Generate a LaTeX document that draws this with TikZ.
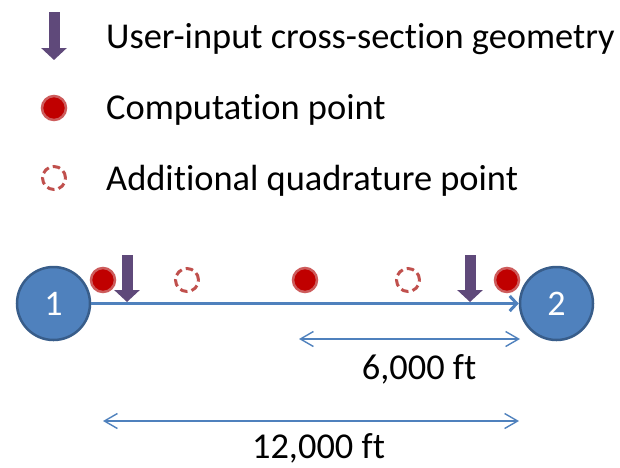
\documentclass[tikz,border=0pt]{standalone}
\usepackage{fontspec}
\setmainfont[RawFeature={-liga;-dlig;-clig;-calt}]{Carlito}
\usetikzlibrary{arrows.meta}
\definecolor{nodeblue}{HTML}{4F81BD}
\definecolor{nodeedge}{HTML}{385D8A}
\definecolor{dotred}{HTML}{C00000}
\definecolor{dotedge}{HTML}{CD5C5C}
\definecolor{dashred}{HTML}{C0504D}
\definecolor{geompurple}{HTML}{5F497A}
\tikzset{
  txt/.style={font=\fontsize{36.4}{43}\selectfont, inner sep=0pt},
  endnode/.style={circle, fill=nodeblue, draw=nodeedge, line width=2.5pt, minimum size=73pt, inner sep=0pt, text=white, font=\fontsize{36}{43}\selectfont},
  comppt/.style={circle, fill=dotred, draw=dotedge, line width=2.5pt, minimum size=24pt, inner sep=0pt},
  quadpt/.style={circle, draw=dashred, line width=3pt, dash pattern=on 7.5pt off 4.2pt, minimum size=23pt, inner sep=0pt},
  geomarrow/.style={geompurple, line width=11pt, -{Triangle[length=12pt, width=25pt]}},
  mainline/.style={nodeblue, line width=3pt, -{Straight Barb[length=7pt, width=15pt]}},
  dimline/.style={nodeblue, line width=1.4pt, {Straight Barb[length=13pt, width=15pt]}-{Straight Barb[length=13pt, width=15pt]}}
}
\begin{document}
\begin{tikzpicture}[x=1pt, y=-1pt]
\useasboundingbox (0,0) rectangle (620,467);
% legend
\coordinate (la1) at (54,12);
\coordinate (la2) at (54,60);
\draw[geomarrow] (la1) -- (la2);
\node[txt, anchor=base west] (lt1) at (106,48) {User-input cross-section geometry};
\node[comppt] (lc) at (54,108) {};
\node[txt, anchor=base west] (lt2) at (106,119) {Computation point};
\node[quadpt] (lq) at (54,178) {};
\node[txt, anchor=base west] (lt3) at (106,190) {Additional quadrature point};
% diagram
\node[endnode] (n1) at (53.5,303.5) {1};
\node[endnode] (n2) at (556.5,303.5) {2};
\draw[mainline] (n1) -- (n2);
\node[comppt] (c1) at (103,280) {};
\node[quadpt] (q1) at (187,280) {};
\node[comppt] (c2) at (305,280) {};
\node[quadpt] (q2) at (408,280) {};
\node[comppt] (c3) at (507,280) {};
\coordinate (a1s) at (127,255);
\coordinate (a1e) at (127,302);
\draw[geomarrow] (a1s) -- (a1e);
\coordinate (a2s) at (470,255);
\coordinate (a2e) at (470,302);
\draw[geomarrow] (a2s) -- (a2e);
% dimensions
\coordinate (d6l) at (299,339);
\coordinate (d6r) at (520,339);
\draw[dimline] (d6l) -- (d6r);
\node[txt, anchor=base] (t6) at (419,379) {6,000 ft};
\coordinate (d12l) at (103,421);
\coordinate (d12r) at (519,421);
\draw[dimline] (d12l) -- (d12r);
\node[txt, anchor=base] (t12) at (318.5,458) {12,000 ft};
\end{tikzpicture}
\end{document}
